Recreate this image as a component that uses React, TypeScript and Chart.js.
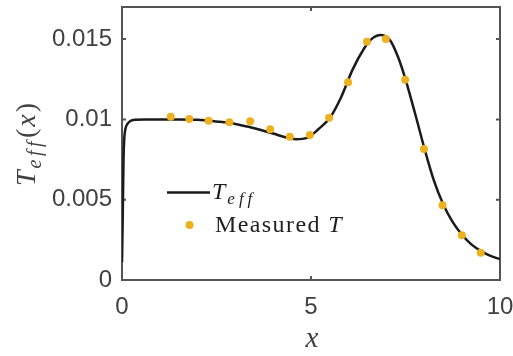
import React, { useEffect, useRef } from "react";
import { Chart, registerables } from "chart.js";

Chart.register(...registerables);

// ---- data ----
const curveX = [0, 0.02, 0.04, 0.06, 0.09, 0.14, 0.22, 0.35, 0.6, 1.0, 1.5, 2.0, 2.5, 3.0, 3.5, 4.0, 4.3, 4.6, 4.9, 5.2, 5.5, 5.8, 6.1, 6.4, 6.6, 6.85, 7.1, 7.3, 7.5, 7.75, 8.0, 8.25, 8.5, 8.75, 9.0, 9.25, 9.5, 9.75, 10.0];
const curveY = [0.0011, 0.004, 0.0075, 0.0088, 0.0094, 0.0097, 0.0099, 0.00998, 0.01, 0.01, 0.01, 0.00998, 0.00987, 0.00972, 0.00945, 0.00912, 0.0089, 0.00877, 0.00885, 0.0094, 0.0101, 0.0114, 0.0131, 0.0144, 0.015, 0.01525, 0.0149, 0.0139, 0.0125, 0.0104, 0.0082, 0.0062, 0.0047, 0.0036, 0.0028, 0.0022, 0.0018, 0.0015, 0.0013];
const measuredX = [1.29, 1.78, 2.29, 2.84, 3.39, 3.92, 4.44, 4.97, 5.48, 5.98, 6.48, 6.98, 7.49, 7.99, 8.48, 8.99, 9.49];
const measuredY = [0.01017, 0.01003, 0.00992, 0.00982, 0.00988, 0.00938, 0.00892, 0.00903, 0.01011, 0.01231, 0.01484, 0.01501, 0.01247, 0.00816, 0.00465, 0.00278, 0.0017];
const xTicks = [0, 5, 10];
const xTickLabels = ["0", "5", "10"];
const yTicks = [0, 0.005, 0.01, 0.015];
const yTickLabels = ["0", "0.005", "0.01", "0.015"];
const xMin = 0;
const xMax = 10;
const yMin = 0;
const yMax = 0.017;

const AXIS = "#555555";
const TICKTEXT = "#404040";
const LABELTEXT = "#404040";
const LINE = "#1a1a1a";
const DOT = "#EDB120";
const SERIF = "'Liberation Serif', 'DejaVu Serif', serif";
const SANS = "'Liberation Sans', Arial, sans-serif";

type Part = { text: string; font: string; dy: number; gap: number };

function runWidth(ctx: CanvasRenderingContext2D, parts: Part[]) {
  let w = 0;
  parts.forEach((p, i) => {
    ctx.font = p.font;
    for (let k = 0; k < p.text.length; k++) {
      w += ctx.measureText(p.text[k]).width;
      const last = i === parts.length - 1 && k === p.text.length - 1;
      if (!last) w += p.gap;
    }
  });
  return w;
}

function drawRun(ctx: CanvasRenderingContext2D, parts: Part[], x: number, y: number) {
  let cx = x;
  parts.forEach((p) => {
    ctx.font = p.font;
    for (let k = 0; k < p.text.length; k++) {
      const ch = p.text[k];
      ctx.fillText(ch, cx, y + p.dy);
      cx += ctx.measureText(ch).width + p.gap;
    }
  });
}

const framePlugin = {
  id: "frame",
  beforeDatasetsDraw(chart: any) {
    const { ctx, chartArea: a, scales } = chart;
    ctx.save();
    ctx.strokeStyle = AXIS;
    ctx.lineWidth = 2;
    ctx.strokeRect(a.left, a.top, a.right - a.left, a.bottom - a.top);
    const L = 4;
    ctx.beginPath();
    xTicks.forEach((v) => {
      const px = scales.x.getPixelForValue(v);
      ctx.moveTo(px, a.bottom);
      ctx.lineTo(px, a.bottom - L);
      ctx.moveTo(px, a.top);
      ctx.lineTo(px, a.top + L);
    });
    yTicks.forEach((v) => {
      const py = scales.y.getPixelForValue(v);
      ctx.moveTo(a.left, py);
      ctx.lineTo(a.left + L, py);
      ctx.moveTo(a.right, py);
      ctx.lineTo(a.right - L, py);
    });
    ctx.stroke();
    ctx.restore();
  },
  afterDraw(chart: any) {
    const { ctx, chartArea: a } = chart;
    ctx.save();
    ctx.textBaseline = "alphabetic";
    ctx.textAlign = "left";

    // x axis title
    ctx.fillStyle = LABELTEXT;
    ctx.font = `italic 29px ${SERIF}`;
    ctx.textAlign = "center";
    ctx.fillText("x", (a.left + a.right) / 2 + 1, 347);
    ctx.textAlign = "left";

    // y axis title
    const yParts: Part[] = [
      { text: "T", font: `italic 28px ${SERIF}`, dy: 0, gap: 2 },
      { text: "eff", font: `italic 20px ${SERIF}`, dy: 6, gap: 3.5 },
      { text: "(", font: `28px ${SERIF}`, dy: 0, gap: 2 },
      { text: "x", font: `italic 28px ${SERIF}`, dy: 0, gap: 2 },
      { text: ")", font: `28px ${SERIF}`, dy: 0, gap: 0 },
    ];
    const yw = runWidth(ctx, yParts);
    ctx.translate(35, (a.top + a.bottom) / 2 + 1);
    ctx.rotate(-Math.PI / 2);
    drawRun(ctx, yParts, -yw / 2, 0);
    ctx.setTransform(1, 0, 0, 1, 0, 0);

    // legend
    const lx = a.left + 45;
    ctx.strokeStyle = LINE;
    ctx.lineWidth = 2.5;
    ctx.beginPath();
    ctx.moveTo(lx, 192.5);
    ctx.lineTo(lx + 43, 192.5);
    ctx.stroke();
    ctx.fillStyle = "#1f1f1f";
    drawRun(
      ctx,
      [
        { text: "T", font: `italic 24px ${SERIF}`, dy: 0, gap: 2 },
        { text: "eff", font: `italic 17px ${SERIF}`, dy: 5, gap: 4 },
      ],
      lx + 45,
      199
    );
    ctx.fillStyle = DOT;
    ctx.beginPath();
    ctx.arc(lx + 22.5, 225, 4, 0, Math.PI * 2);
    ctx.fill();
    ctx.fillStyle = "#1f1f1f";
    drawRun(
      ctx,
      [
        { text: "Measured ", font: `24px ${SERIF}`, dy: 0, gap: 1.4 },
        { text: "T", font: `italic 24px ${SERIF}`, dy: 0, gap: 0 },
      ],
      lx + 48,
      232
    );
    ctx.restore();
  },
};

export default function App() {
  const ref = useRef<HTMLCanvasElement | null>(null);

  useEffect(() => {
    document.body.style.margin = "0";
    if (!ref.current) return;
    const chart = new Chart(ref.current, {
      type: "line",
      data: {
        datasets: [
          {
            label: "T_eff",
            data: curveX.map((x, i) => ({ x, y: curveY[i] })),
            borderColor: LINE,
            borderWidth: 2.5,
            pointRadius: 0,
            cubicInterpolationMode: "monotone",
            fill: false,
            order: 2,
          },
          {
            label: "Measured T",
            data: measuredX.map((x, i) => ({ x, y: measuredY[i] })),
            showLine: false,
            pointRadius: 4,
            pointBackgroundColor: DOT,
            pointBorderWidth: 0,
            borderColor: DOT,
            order: 1,
          },
        ],
      },
      options: {
        animation: false,
        responsive: false,
        layout: { padding: { top: 7, right: 13, left: 0, bottom: 0 } },
        plugins: { legend: { display: false }, tooltip: { enabled: false } },
        scales: {
          x: {
            type: "linear",
            min: xMin,
            max: xMax,
            grid: { display: false, drawTicks: false },
            border: { display: false },
            afterBuildTicks: (s: any) => {
              s.ticks = xTicks.map((v) => ({ value: v }));
            },
            afterFit: (s: any) => {
              s.height = 76;
              s.paddingLeft = 0;
              s.paddingRight = 0;
              s.paddingTop = 0;
              s.paddingBottom = 0;
            },
            ticks: {
              padding: 13,
              color: TICKTEXT,
              font: { family: SANS, size: 24 },
              maxRotation: 0,
              callback: (v: any) => xTickLabels[xTicks.indexOf(Number(v))] ?? "",
            },
          },
          y: {
            type: "linear",
            min: yMin,
            max: yMax,
            grid: { display: false, drawTicks: false },
            border: { display: false },
            afterBuildTicks: (s: any) => {
              s.ticks = yTicks.map((v) => ({ value: v }));
            },
            afterFit: (s: any) => {
              s.width = 122;
              s.paddingLeft = 0;
              s.paddingRight = 0;
              s.paddingTop = 0;
              s.paddingBottom = 0;
            },
            ticks: {
              padding: 10,
              color: TICKTEXT,
              font: { family: SANS, size: 24 },
              callback: (v: any) => yTickLabels[yTicks.indexOf(Number(v))] ?? "",
            },
          },
        },
      },
      plugins: [framePlugin],
    } as any);
    return () => chart.destroy();
  }, []);

  return <canvas ref={ref} width={513} height={356} style={{ display: "block" }} />;
}
